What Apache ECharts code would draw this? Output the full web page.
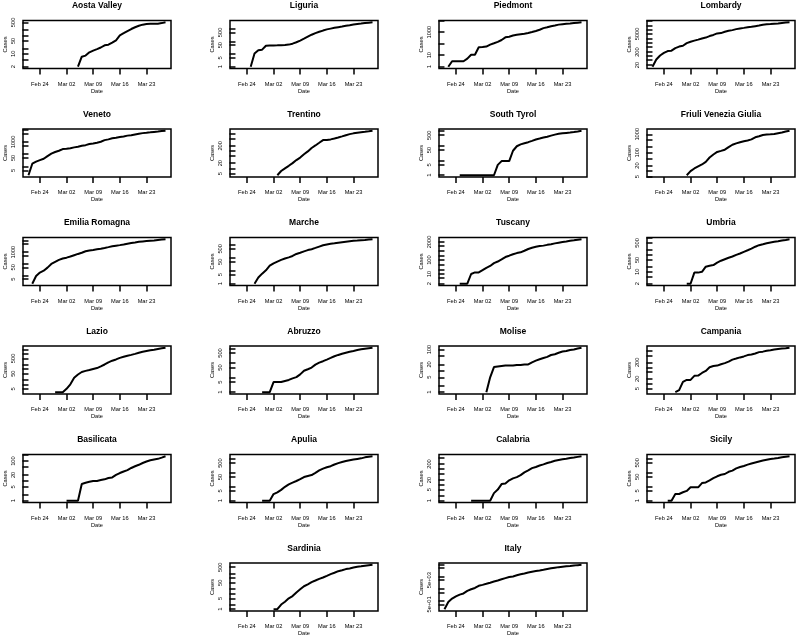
<!DOCTYPE html>
<html><head><meta charset="utf-8">
<script src="https://cdn.jsdelivr.net/npm/echarts@6/dist/echarts.min.js"></script>
<style>html,body{margin:0;padding:0;background:#fff}#c{width:800px;height:638px}</style>
</head><body><div id="c"></div>
<script>
const _ = null;
// x: days since 21 Feb 2020 (0 .. 36 = 28 Mar)
const days = [0,1,2,3,4,5,6,7,8,9,10,11,12,13,14,15,16,17,18,19,20,21,22,23,24,25,26,27,28,29,30,31,32,33,34,35,36];
const xTickDays = [3, 10, 17, 24, 31];
const xTickLabels = ['Feb 24', 'Mar 02', 'Mar 09', 'Mar 16', 'Mar 23'];

const regionNames = ['Aosta Valley','Liguria','Piedmont','Lombardy',
  'Veneto','Trentino','South Tyrol','Friuli Venezia Giulia',
  'Emilia Romagna','Marche','Tuscany','Umbria',
  'Lazio','Abruzzo','Molise','Campania',
  'Basilicata','Apulia','Calabria','Sicily',
  'Sardinia','Italy'];

const aosta = [_,_,_,_,_,_,_,_,_,_,_,_,_,2,7,8,12,15,18,22,29,31,40,54,100,130,170,220,275,330,380,410,420,425,430,460,510];
const liguria = [_,_,_,_,1,11,20,22,45,46,47,48,50,52,55,65,85,115,160,230,330,440,560,700,870,1000,1150,1300,1450,1650,1850,2100,2300,2500,2750,2950,3150];
const piedmont = [_,1,3,3,3,3,5,11,11,49,51,56,82,108,143,207,350,400,500,580,650,720,840,1000,1250,1600,2200,2600,3251,3761,4420,4861,5282,5515,6024,6551,7060];
const lombardy = [15,54,110,172,240,258,403,531,615,984,1254,1520,1820,2251,2612,3420,4189,5469,5791,7280,8725,9820,11685,13272,14649,16220,17713,19884,22264,25515,27206,28761,30703,32346,34889,37298,39415];
const veneto = [2,17,25,33,43,71,111,151,191,263,273,307,360,407,488,543,670,744,856,1023,1384,1595,1937,2172,2473,2704,3214,3484,4031,4617,5122,5505,5948,6442,6935,7497,7930];
const trentino = [_,_,_,_,_,_,_,_,_,_,_,4,7,10,14,20,30,42,65,95,150,210,300,430,435,470,530,600,700,820,950,1050,1150,1230,1300,1380,1480];
const southTyrol = [_,_,_,_,1,1,1,1,1,1,1,1,1,1,5,9,9,9,45,90,120,145,170,210,260,300,350,400,470,550,620,680,720,760,820,900,1000];
const friuli = [_,_,_,_,_,_,_,_,_,6,10,14,18,23,32,55,80,110,126,146,200,270,320,370,420,460,530,690,780,920,960,1000,1050,1150,1250,1400,1550];
const emilia = [_,2,9,18,26,47,97,145,217,285,335,420,544,698,870,1180,1386,1533,1739,1947,2263,2644,3093,3522,3931,4525,5214,5968,6705,7555,8156,8725,9254,9811,10816,11588,12383];
const marche = [_,_,_,_,_,1,3,6,11,25,38,52,70,90,110,140,200,250,320,400,470,590,750,950,1100,1250,1350,1500,1650,1800,1950,2100,2200,2350,2450,2600,2750];
const tuscany = [_,_,_,_,2,2,2,10,13,13,19,28,38,61,79,113,166,208,264,320,364,470,630,781,909,1024,1100,1250,1400,1600,1800,2000,2200,2450,2650,2900,3150];
const umbria = [_,_,_,_,_,_,_,_,_,2,2,9,9,10,20,23,25,35,45,55,67,80,100,120,150,185,230,300,370,420,480,530,580,630,690,750,820];
const lazio = [_,_,_,_,_,_,_,3,3,3,5,10,27,44,64,76,87,102,116,150,200,277,355,429,542,640,752,856,1000,1190,1370,1540,1728,1885,2095,2323,2510];
const abruzzo = [_,_,_,_,_,_,_,1,1,1,5,5,5,6,7,9,11,17,30,38,50,80,110,137,176,229,300,370,450,530,620,700,800,900,1000,1080,1150];
const molise = [_,_,_,_,_,_,_,_,_,_,_,1,5,15,16,17,18,18,18,19,19,20,20,25,30,35,40,45,55,60,70,80,85,95,100,110,120];
const campania = [_,_,_,_,_,_,3,4,13,17,17,30,31,45,60,101,120,127,154,179,220,292,340,400,460,554,604,700,841,900,1026,1100,1200,1300,1400,1450,1550];
const basilicata = [_,_,_,_,_,_,_,_,_,_,1,1,1,1,7,8,9,10,10,11,12,14,15,20,25,30,35,45,55,65,80,95,110,120,130,150,175];
const apulia = [_,_,_,_,_,_,_,1,1,1,3,4,6,10,15,20,26,35,50,60,70,100,150,200,250,300,400,500,600,700,800,900,1000,1100,1300,1450,1550];
const calabria = [_,_,_,_,_,_,_,1,1,1,1,1,1,3,5,11,12,19,25,30,40,60,80,110,130,160,190,230,270,320,360,400,430,470,510,560,610];
const sicily = [_,_,_,_,1,1,3,3,4,5,9,9,9,18,20,28,40,55,70,80,115,140,200,250,300,370,450,530,620,720,820,920,1000,1100,1250,1350,1460];
const sardinia = [_,_,_,_,_,_,_,_,_,_,1,1,2,3,5,7,12,19,30,40,55,70,90,110,140,180,220,280,320,380,420,480,540,580,630,680,720];
const italy = [20,79,150,229,322,400,650,888,1128,1694,2036,2502,3089,3858,4636,5883,7375,9172,10149,12462,15113,17660,21157,24747,27980,31506,35713,41035,47021,53578,59138,63927,69176,74386,80539,86498,92472];

const seriesData = [aosta,liguria,piedmont,lombardy,veneto,trentino,southTyrol,friuli,
  emilia,marche,tuscany,umbria,lazio,abruzzo,molise,campania,basilicata,apulia,calabria,sicily,sardinia,italy];
// panel slots (row, col)
const slots = [[0,0],[0,1],[0,2],[0,3],[1,0],[1,1],[1,2],[1,3],[2,0],[2,1],[2,2],[2,3],
  [3,0],[3,1],[3,2],[3,3],[4,0],[4,1],[4,2],[4,3],[5,1],[5,2]];

const colLeft = [23, 230, 439, 647];
const rowTop = [20.5, 129, 237.5, 346, 454.5, 563];
const W = 148, H = 48;
const FS = 5.7;
const FONT = '"Liberation Sans", Arial, Helvetica, sans-serif';

const cv = document.createElement('canvas').getContext('2d');
cv.font = FS + 'px ' + FONT;
const tw = s => cv.measureText(s).width;

function fmtFactory(sci) {
  return v => {
    if (!sci) return String(Math.round(v * 1000) / 1000);
    const e = Math.floor(Math.log10(v) + 1e-9);
    const m = Math.round(v / Math.pow(10, e));
    return m + 'e+' + String(e).padStart(2, '0');
  };
}

// R-style log axis: 4% padding, 1-2-5 / 1-5 / 1 ticks, label overlap dropping
function logAxis(vals) {
  const p = vals.filter(v => v != null && v > 0);
  const a = Math.log10(Math.min(...p)), b = Math.log10(Math.max(...p));
  const d = (b - a) * 0.04;
  const lo = a - d, hi = b + d;
  const umin = Math.pow(10, lo), umax = Math.pow(10, hi);
  let p1 = Math.ceil(lo), p2 = Math.floor(hi);
  if (p2 <= p1 && umax / umin > 10) { p1 = Math.ceil(lo - 0.5); p2 = Math.floor(hi + 0.5); }
  const n = (p2 - p1 <= 2) ? 3 : (p2 - p1 <= 3 ? 2 : 1);
  const ul = Math.pow(10, p1);
  const r = v => Number(v.toPrecision(6));
  const at = [];
  if (n === 3) {
    if (0.2 * ul >= umin) at.push(r(0.2 * ul));
    if (0.5 * ul >= umin) at.push(r(0.5 * ul));
    for (let k = ul; k <= umax; k *= 10) {
      if (k >= umin) at.push(r(k));
      if (2 * k <= umax) at.push(r(2 * k));
      if (5 * k <= umax) at.push(r(5 * k));
    }
  } else if (n === 2) {
    if (0.5 * ul >= umin) at.push(r(0.5 * ul));
    for (let k = ul; k <= umax; k *= 10) {
      if (k >= umin) at.push(r(k));
      if (5 * k <= umax) at.push(r(5 * k));
    }
  } else {
    for (let k = ul; k < umax; k *= 10) at.push(r(k));
  }
  const ticks = at.filter(v => v >= umin && v <= umax);
  const sci = Math.max(...ticks) >= 1e5;
  const fmt = fmtFactory(sci);
  const ppd = H / (hi - lo);
  const gap = tw('m');
  let tlast = -1e9;
  const labels = [];
  for (const v of ticks) {
    const pp = (Math.log10(v) - lo) * ppd;
    const w = tw(fmt(v));
    if (pp - w / 2 - tlast >= gap) { labels.push(v); tlast = pp + w / 2; }
  }
  return { min: umin, max: umax, ticks, labels, fmt };
}

const grid = [], xAxis = [], yAxis = [], series = [], graphic = [];
seriesData.forEach((arr, i) => {
  const [row, col] = slots[i];
  const L = colLeft[col], T = rowTop[row];
  grid.push({ left: L, top: T, width: W, height: H, show: true, borderColor: '#000', borderWidth: 1.5,
    backgroundColor: 'transparent', containLabel: false, outerBoundsMode: 'none' });
  xAxis.push({
    type: 'value', gridIndex: i, min: -1.44, max: 37.44,
    axisLine: { show: false },
    axisTick: { show: true, inside: false, length: 6, lineStyle: { color: '#000', width: 1.5 }, customValues: xTickDays },
    axisLabel: { show: true, customValues: xTickDays, hideOverlap: false,
      formatter: v => xTickLabels[xTickDays.indexOf(Math.round(v))] || '',
      margin: 12.5, fontSize: FS, fontFamily: FONT, color: '#000' },
    splitLine: { show: false },
    name: 'Date', nameLocation: 'middle', nameGap: 19.5, nameMoveOverlap: false,
    nameTextStyle: { fontSize: FS, fontFamily: FONT, color: '#000' }
  });
  const ax = logAxis(arr);
  yAxis.push({
    type: 'log', logBase: 10, gridIndex: i, min: ax.min, max: ax.max,
    axisLine: { show: false },
    axisTick: { show: true, inside: false, length: 6, lineStyle: { color: '#000', width: 1.5 }, customValues: ax.ticks },
    axisLabel: { show: true, customValues: ax.labels, hideOverlap: false, rotate: 90, margin: 7,
      formatter: v => ax.fmt(v), fontSize: FS, fontFamily: FONT, color: '#000' },
    splitLine: { show: false },
    name: 'Cases', nameLocation: 'middle', nameGap: 15, nameRotate: 90, nameMoveOverlap: false,
    nameTextStyle: { fontSize: FS, fontFamily: FONT, color: '#000' }
  });
  series.push({
    type: 'line', xAxisIndex: i, yAxisIndex: i,
    data: days.map((d, k) => [d, arr[k]]),
    symbol: 'none', showSymbol: false, connectNulls: false, silent: true,
    lineStyle: { color: '#000', width: 2 }
  });
  graphic.push({
    type: 'text', x: L + W / 2, y: T - 14.5, silent: true,
    style: { text: regionNames[i], fill: '#000', font: 'bold 8.5px ' + FONT, textAlign: 'center', textVerticalAlign: 'middle' }
  });
});

const chart = echarts.init(document.getElementById('c'), null, { renderer: 'canvas' });
chart.setOption({ animation: false, backgroundColor: '#fff', grid, xAxis, yAxis, series, graphic });
</script>
</body></html>
